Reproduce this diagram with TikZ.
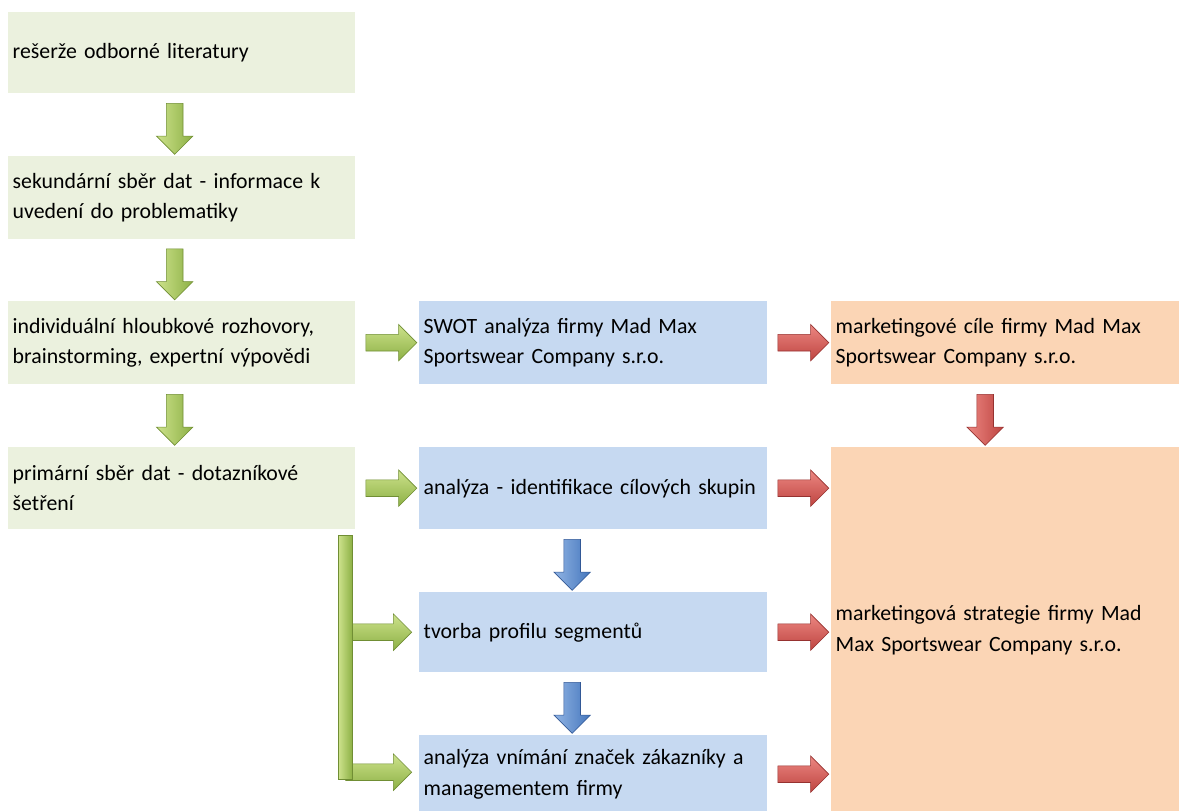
\documentclass[tikz,border=0pt]{standalone}
\usepackage{fontspec}
\setmainfont{Carlito}
\usetikzlibrary{positioning,calc}
\usetikzlibrary{shapes.arrows}

\definecolor{boxgreen}{RGB}{235,241,222}
\definecolor{boxblue}{RGB}{198,217,241}
\definecolor{boxorange}{RGB}{251,213,181}
\definecolor{grnlight}{RGB}{205,226,140}
\definecolor{grnmain}{RGB}{140,176,68}
\definecolor{grndark}{RGB}{112,142,52}
\definecolor{redlight}{RGB}{236,135,130}
\definecolor{redmain}{RGB}{190,68,64}
\definecolor{reddark}{RGB}{150,50,48}
\definecolor{blulight}{RGB}{145,180,228}
\definecolor{blumain}{RGB}{68,118,188}
\definecolor{bludark}{RGB}{50,88,150}

\begin{document}
\begin{tikzpicture}[x = 1pt, y = 1pt,
        box/.style = {anchor = north west, inner xsep = 4.5pt, inner ysep = 0pt, align = left, font = \fontsize{21.8}{30.5}\selectfont},
        gbox/.style = {box, fill = boxgreen, text width = 338pt},
        bbox/.style = {box, fill = boxblue, text width = 339pt},
        obox/.style = {box, fill = boxorange, text width = 339pt},
        arr/.style = {shape = single arrow, single arrow head extend = 10pt, inner xsep = 0pt, inner ysep = 8pt, minimum height = 51pt, line width = 0.6pt},
        garr/.style = {arr, draw = grndark, top color = grnlight, bottom color = grnmain},
        gdown/.style = {arr, rotate = -90, draw = grndark, left color = grnlight, right color = grnmain},
        rarr/.style = {arr, draw = reddark, top color = redlight, bottom color = redmain},
        rdown/.style = {arr, rotate = -90, draw = reddark, left color = redlight, right color = redmain},
        bdown/.style = {arr, rotate = -90, draw = bludark, left color = blulight, right color = blumain},
        bar/.style = {draw = grndark, line width = 0.6pt, left color = grnlight, right color = grnmain},
    ]
    \useasboundingbox (0,0) rectangle (1179,-811);

    % left column
    \node[gbox, minimum height = 81pt] (A) at (8,-12) {rešerže odborné literatury};
    \node[gbox, minimum height = 83pt] (B) at (8,-156) {sekundární sběr dat - informace k\\uvedení do problematiky};
    \node[gbox, minimum height = 83pt] (C) at (8,-301) {individuální hloubkové rozhovory,\\brainstorming, expertní výpovědi};
    \node[gbox, minimum height = 82pt] (D) at (8,-447) {primární sběr dat - dotazníkové\\šetření};

    % middle column
    \node[bbox, minimum height = 83pt] (E) at (419,-301) {SWOT analýza firmy Mad Max\\Sportswear Company s.r.o.};
    \node[bbox, minimum height = 82pt] (F) at (419,-447) {analýza - identifikace cílových skupin};
    \node[bbox, minimum height = 80pt] (G) at (419,-592) {tvorba profilu segmentů};
    \node[bbox, minimum height = 78pt] (H) at (419,-735) {analýza vnímání značek zákazníky a\\managementem firmy};

    % right column
    \node[obox, minimum height = 83pt] (I) at (831,-301) {marketingové cíle firmy Mad Max\\Sportswear Company s.r.o.};
    \node[obox, minimum height = 366pt] (J) at (831,-447) {marketingová strategie firmy Mad\\Max Sportswear Company s.r.o.};

    % arrows
    \node[gdown] (AB) at ($(A.south)!.5!(B.north)+(-7,0)$) {};
    \node[gdown] (BC) at ($(B.south)!.5!(C.north)+(-7,0)$) {};
    \node[gdown] (CD) at ($(C.south)!.5!(D.north)+(-7,0)$) {};
    \node[garr] (CE) at ($(C.east)!.5!(E.west)$) {};
    \node[garr] (DF) at ($(D.east)!.5!(F.west)$) {};

    \node[rarr] (EI) at ($(E.east)!.5!(I.west)$) {};
    \node[rarr] (FJ) at ($(F.east)!.5!(F.east -| J.west)$) {};
    \node[rarr] (GJ) at ($(G.east)!.5!(G.east -| J.west)$) {};
    \node[rarr] (HJ) at ($(H.east)!.5!(H.east -| J.west)$) {};
    \node[rdown] (IJ) at ($(I.south)!.5!(J.north)+(-20,0)$) {};

    \node[bdown] (FG) at ($(F.south)!.5!(G.north)+(-21,0)$) {};
    \node[bdown] (GH) at ($(G.south)!.5!(H.north)+(-21,0)$) {};

    % bracket from D to G and H
    \coordinate (br) at ($(D.south east)+(-10,-6)$);
    \coordinate (bb) at ($(br |- H.center)+(0,-5)$);
    \node[garr, anchor = tail, minimum height = 66pt] (DG) at (br |- G.center) {};
    \node[garr, anchor = tail, minimum height = 66pt] (DH) at ($(br |- H.center)+(0,2)$) {};
    \filldraw[bar] ($(br)+(-7,0)$) rectangle ($(bb)+(7,0)$);
\end{tikzpicture}
\end{document}
